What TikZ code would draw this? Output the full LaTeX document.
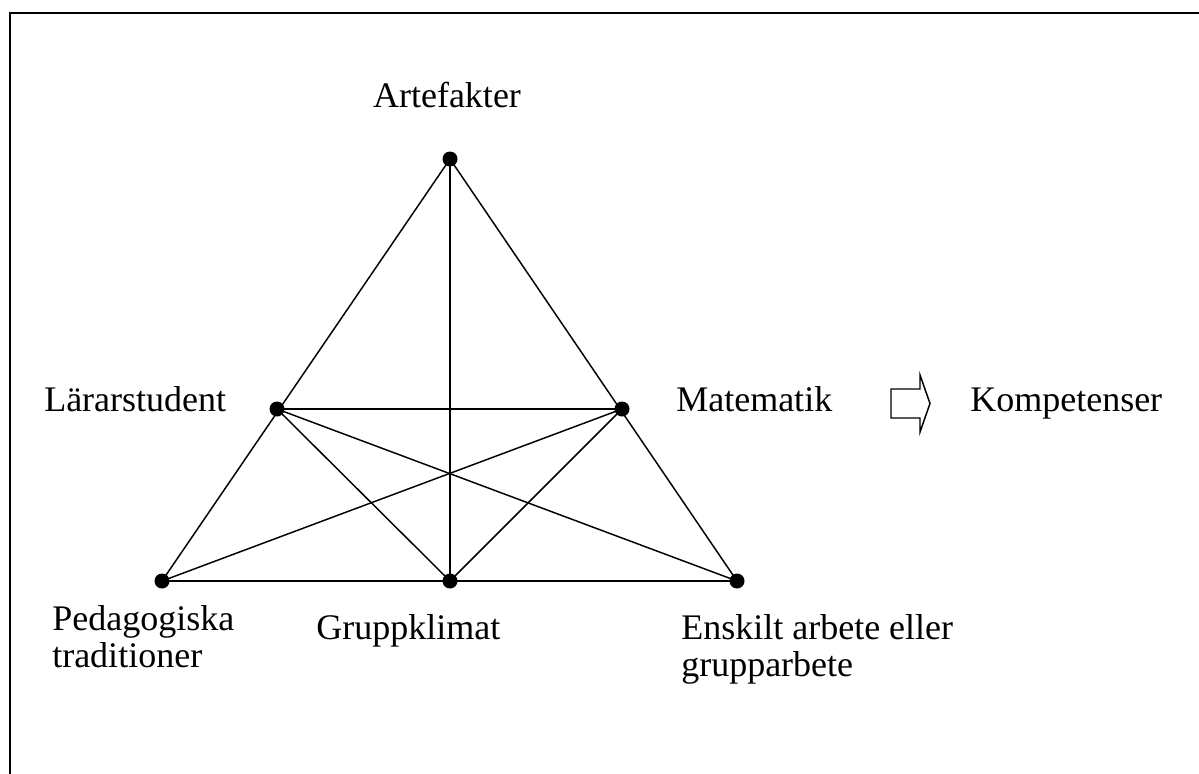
\documentclass[tikz,border=0pt]{standalone}
\usepackage{fontspec}
\setmainfont{Liberation Serif}
\begin{document}
\begin{tikzpicture}[x=0.75pt,y=-0.75pt,
  dot/.style={circle,fill=black,inner sep=0pt,minimum size=11.25pt},
  edge/.style={line width=1.1pt},
  lbl/.style={inner sep=0pt,font=\fontsize{27pt}{27.75pt}\selectfont},
  frame/.style={line width=1.6pt}]
\useasboundingbox (0,0) rectangle (1199,774);
\draw[frame] (10,774) -- (10,13) -- (1199,13);
% dots
\node[dot] (A) at (450,159) {};
\node[dot] (L) at (277,409) {};
\node[dot] (M) at (622,409) {};
\node[dot] (P) at (162,581) {};
\node[dot] (G) at (450,581) {};
\node[dot] (E) at (737,581) {};
% edges
\draw[edge] (A.center) -- (P.center);
\draw[edge] (A.center) -- (E.center);
\draw[edge] (P.center) -- (E.center);
\draw[edge] (A.center) -- (G.center);
\draw[edge] (L.center) -- (M.center);
\draw[edge] (L.center) -- (G.center);
\draw[edge] (L.center) -- (E.center);
\draw[edge] (M.center) -- (P.center);
\draw[edge] (M.center) -- (G.center);
% labels
\node[lbl,anchor=base] (tA) at (447,108) {Artefakter};
\node[lbl,anchor=base west] (tL) at (44,411) {Lärarstudent};
\node[lbl,anchor=base west] (tM) at (676,411) {Matematik};
\node[lbl,anchor=base west] (tK) at (970,411) {Kompetenser};
\node[lbl,anchor=base west,align=left] (tP) at (52,667) {Pedagogiska\\traditioner};
\node[lbl,anchor=base west] (tG) at (316,639) {Gruppklimat};
\node[lbl,anchor=base west,align=left] (tE) at (681,676) {Enskilt arbete eller\\grupparbete};
% block arrow
\draw[line width=1.1pt,line join=miter] (891,389) -- (920,389) -- (920,375) -- (930,403.5) -- (920,432) -- (920,418) -- (891,418) -- cycle;
\end{tikzpicture}
\end{document}
